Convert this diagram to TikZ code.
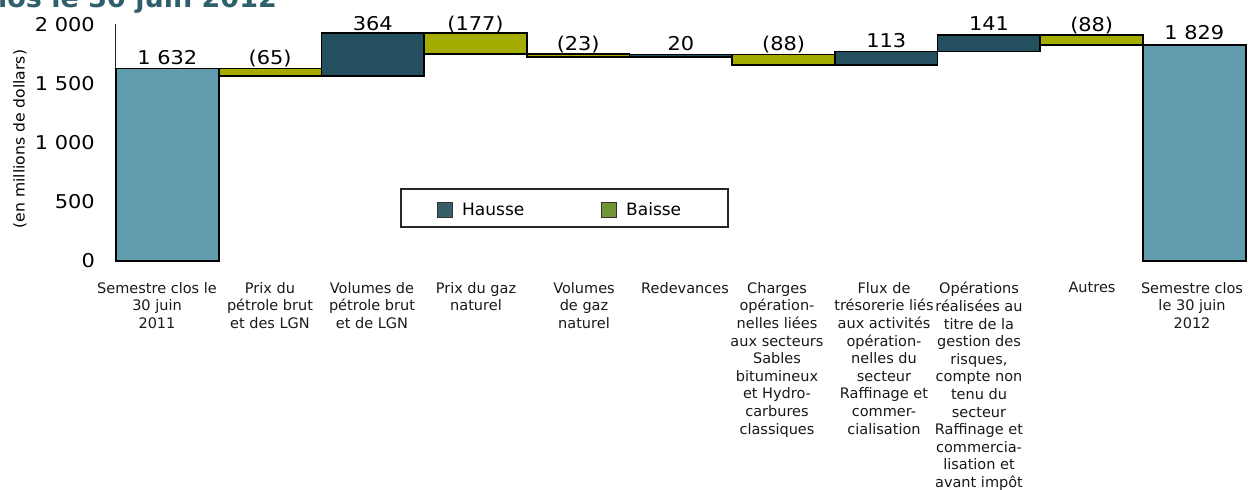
\documentclass[tikz,border=0pt]{standalone}
\usepackage{fontspec}
\setmainfont{DejaVu Sans}
\newfontfamily\numfont[FakeStretch=1.1]{DejaVu Sans}
\newfontfamily\axfont[FakeStretch=1.04]{DejaVu Sans}
\definecolor{totc}{HTML}{609CAE}
\definecolor{incc}{HTML}{244F5E}
\definecolor{decc}{HTML}{A5AC00}
\definecolor{leginc}{HTML}{385E69}
\definecolor{legdec}{HTML}{6F9537}
\definecolor{titc}{HTML}{2E5F6B}
\begin{document}
\begin{tikzpicture}[x=1pt,y=-1pt,
  barbox/.style={draw=black,line width=1.7pt},
  totbar/.style={barbox,fill=totc},
  incbar/.style={barbox,fill=incc},
  decbar/.style={barbox,fill=decc},
  vallab/.style={font=\numfont\fontsize{19}{22}\selectfont,anchor=base,inner sep=0pt},
  ticklab/.style={font=\numfont\fontsize{19}{22}\selectfont,anchor=east,inner sep=0pt},
  catlab/.style={font=\fontsize{14.5}{17.6}\selectfont,anchor=north,align=center,inner sep=0pt,text=black!90},
  leglab/.style={font=\fontsize{17}{19}\selectfont,anchor=base west,inner sep=0pt},
  swatch/.style={draw=black!80,line width=0.7pt}]
\useasboundingbox (0,0) rectangle (1248,490);
\clip (0,0) rectangle (1248,490);
% title fragment (cut by the top edge)
\node[anchor=base east,inner sep=0pt,text=titc,font=\bfseries\fontsize{27}{30}\selectfont] (title) at (277,7) {clos le 30 juin 2012};
% axis
\draw[line width=0.9pt,black!85] (115,24) -- (115,261);
\node[ticklab] (t0) at (95,261) {0};
\node[ticklab] (t500) at (95,202) {500};
\node[ticklab] (t1000) at (95,143) {1 000};
\node[ticklab] (t1500) at (95,84) {1 500};
\node[ticklab] (t2000) at (95,25) {2 000};
\node[rotate=90,font=\axfont\fontsize{15}{17}\selectfont,inner sep=0pt] (ytitle) at (20,139) {(en millions de dollars)};
% bars
\draw[totbar] (116,261) rectangle (218.7,68.4);
\draw[decbar] (218.7,68.4) rectangle (321.4,76.1);
\draw[incbar] (321.4,76.1) rectangle (424.1,33.1);
\draw[decbar] (424.1,33.1) rectangle (526.8,54.0);
\draw[decbar] (526.8,54.0) rectangle (629.5,56.7);
\draw[incbar] (629.5,56.7) rectangle (732.2,54.4);
\draw[decbar] (732.2,54.4) rectangle (834.9,64.8);
\draw[incbar] (834.9,64.8) rectangle (937.6,51.4);
\draw[incbar] (937.6,51.4) rectangle (1040.3,34.8);
\draw[decbar] (1040.3,34.8) rectangle (1143,45.2);
\draw[totbar] (1143,261) rectangle (1245.7,45.2);
% value labels
\node[vallab] (v1) at (167.4,64.4) {1 632};
\node[vallab] (v2) at (270.1,64.4) {(65)};
\node[vallab] (v3) at (372.8,30.6) {364};
\node[vallab] (v4) at (475.5,30.1) {(177)};
\node[vallab] (v5) at (578.2,50.0) {(23)};
\node[vallab] (v6) at (680.9,50.0) {20};
\node[vallab] (v7) at (783.6,50.0) {(88)};
\node[vallab] (v8) at (886.3,47.0) {113};
\node[vallab] (v9) at (989,30.8) {141};
\node[vallab] (v10) at (1091.7,31.5) {(88)};
\node[vallab] (v11) at (1194.4,39.5) {1 829};
% category labels
\node[catlab] (c1) at (157,282) {Semestre clos le\\30 juin\\2011};
\node[catlab] (c2) at (270,282) {Prix du\\pétrole brut\\et des LGN};
\node[catlab] (c3) at (372,282) {Volumes de\\pétrole brut\\et de LGN};
\node[catlab] (c4) at (476,282) {Prix du gaz\\naturel};
\node[catlab] (c5) at (584,282) {Volumes\\de gaz\\naturel};
\node[catlab] (c6) at (685,282) {Redevances};
\node[catlab] (c7) at (777,282) {Charges\\opération-\\nelles liées\\aux secteurs\\Sables\\bitumineux\\et Hydro-\\carbures\\classiques};
\node[catlab] (c8) at (884,282) {Flux de\\trésorerie liés\\aux activités\\opération-\\nelles du\\secteur\\Raffinage et\\commer-\\cialisation};
\node[catlab] (c9) at (979,282) {Opérations\\réalisées au\\titre de la\\gestion des\\risques,\\compte non\\tenu du\\secteur\\Raffinage et\\commercia-\\lisation et\\avant impôt};
\node[catlab] (c10) at (1092,282) {Autres};
\node[catlab] (c11) at (1192,282) {Semestre clos\\le 30 juin\\2012};
% legend
\draw[line width=1.3pt,black!85] (401,189) rectangle (728,227);
\draw[swatch,fill=leginc] (437,202) rectangle (452,217);
\node[leglab] (lh) at (462,215) {Hausse};
\draw[swatch,fill=legdec] (601,202) rectangle (616,217);
\node[leglab] (lb) at (626,215) {Baisse};
\end{tikzpicture}
\end{document}
